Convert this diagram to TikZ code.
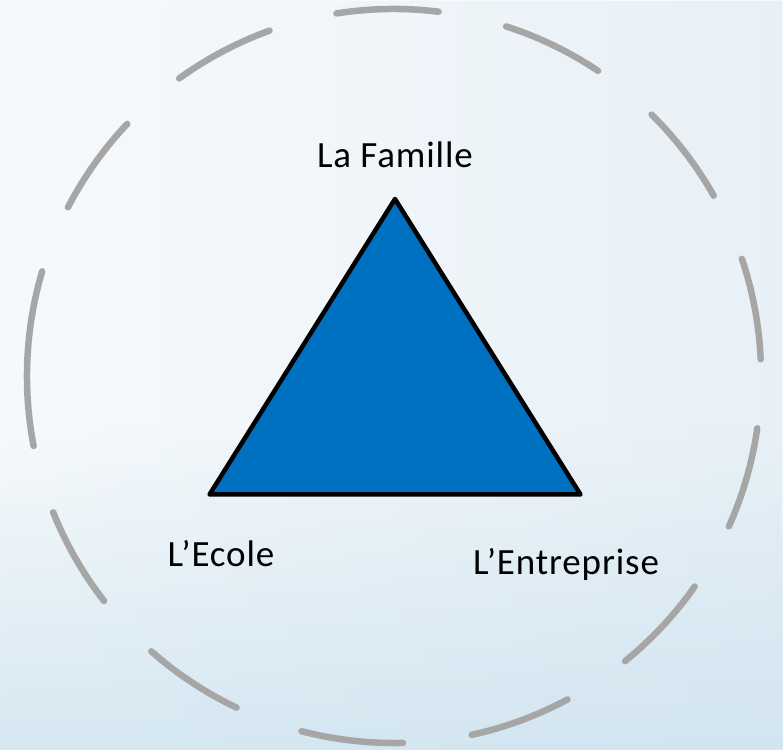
\documentclass[tikz,border=0pt]{standalone}
\usepackage{fontspec}
\setmainfont{Carlito}
\newfontfamily\lblfont[LetterSpace=2.4]{Carlito}
\usetikzlibrary{fadings}
\definecolor{bgW}{HTML}{F7FAFC}
\definecolor{bgB}{HTML}{D6E8F2}
\definecolor{bgO}{HTML}{C8DDEC}
\definecolor{dashgray}{HTML}{A6A6A6}
\definecolor{triblue}{HTML}{0070C0}
\pgfdeclareverticalshading{bgv}{100bp}{color(0bp)=(bgB); color(25bp)=(bgB); color(47bp)=(bgW); color(75bp)=(bgW); color(100bp)=(bgW)}
\tikzset{
  dashring/.style={draw=dashgray, line width=6.5pt, line cap=round, dash pattern=on 102.5pt off 69.2pt},
  tri/.style={draw=black, fill=triblue, line width=4.5pt, line join=round},
  lbl/.style={anchor=base, inner sep=0pt, font=\lblfont\fontsize{37}{44}\selectfont}
}
\begin{document}
\begin{tikzpicture}[x=1pt,y=1pt]
  \useasboundingbox (0,0) rectangle (783,749);
  \shade[shading=bgv] (0,0) rectangle (783,749);
  \fill[bgO, fill opacity=0.32, path fading=west] (0,0) rectangle (783,749);
  \coordinate (c) at (394,373);
  \draw[dashring] (c) ++(175:367) arc[start angle=175, delta angle=360, radius=367];
  \coordinate (apex) at (395,550);
  \coordinate (bl) at (209.5,254.5);
  \coordinate (br) at (580.5,254.5);
  \path[tri] (apex) -- (br) -- (bl) -- cycle;
  \node[lbl] (fam) at (395,581) {La Famille};
  \node[lbl] (eco) at (221,182) {L’Ecole};
  \node[lbl] (ent) at (566,174) {L’Entreprise};
\end{tikzpicture}
\end{document}
